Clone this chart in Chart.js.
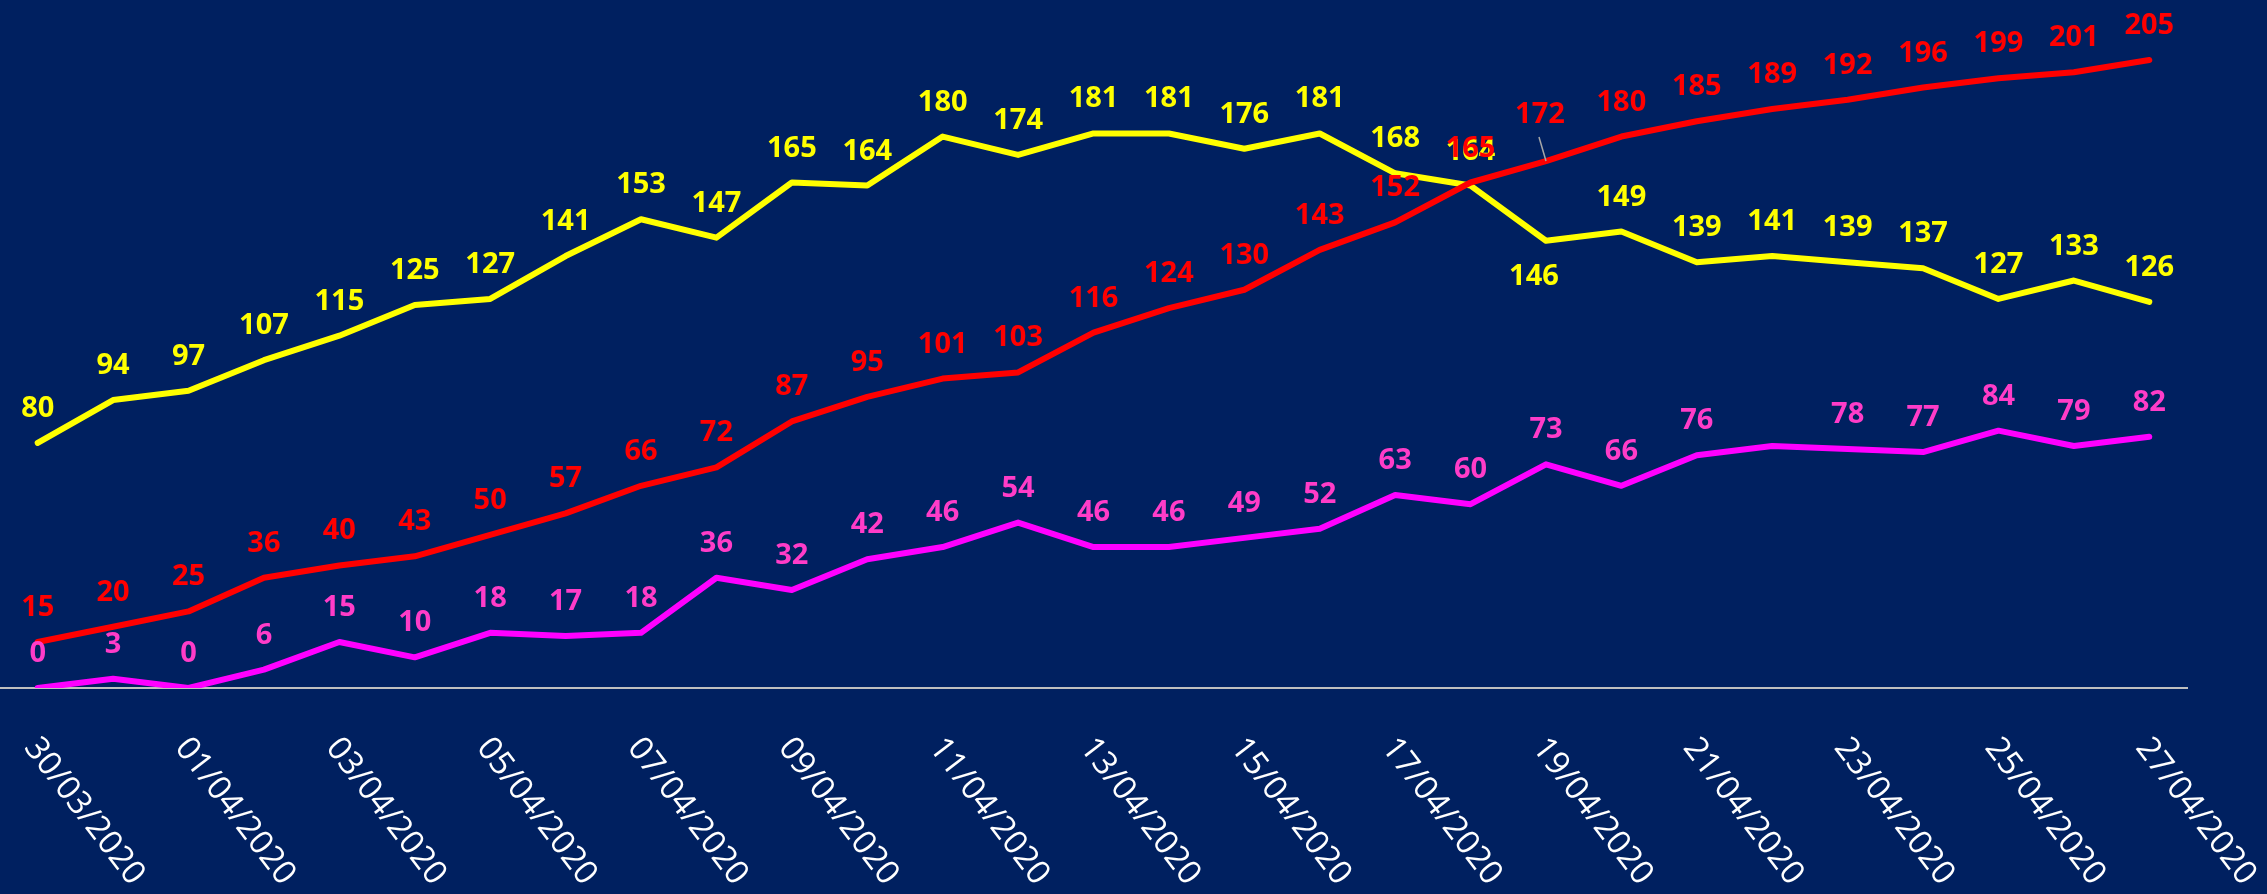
<!DOCTYPE html>
<html>
<head>
<meta charset="utf-8">
<script src="https://cdn.jsdelivr.net/npm/chart.js@4.4.1/dist/chart.umd.min.js"></script>
<style>
  html, body { margin: 0; padding: 0; background: #002060; }
  #wrap { width: 2267px; height: 894px; }
</style>
</head>
<body>
<div id="wrap"><canvas id="c" width="2267" height="894"></canvas></div>
<script>
// ---- data ----
const categories = [
  '30/03/2020','31/03/2020','01/04/2020','02/04/2020','03/04/2020','04/04/2020','05/04/2020',
  '06/04/2020','07/04/2020','08/04/2020','09/04/2020','10/04/2020','11/04/2020','12/04/2020',
  '13/04/2020','14/04/2020','15/04/2020','16/04/2020','17/04/2020','18/04/2020','19/04/2020',
  '20/04/2020','21/04/2020','22/04/2020','23/04/2020','24/04/2020','25/04/2020','26/04/2020','27/04/2020'
];
const yellowValues  = [80,94,97,107,115,125,127,141,153,147,165,164,180,174,181,181,176,181,168,164,146,149,139,141,139,137,127,133,126];
const redValues     = [15,20,25,36,40,43,50,57,66,72,87,95,101,103,116,124,130,143,152,165,172,180,185,189,192,196,199,201,205];
const magentaValues = [0,3,0,6,15,10,18,17,18,36,32,42,46,54,46,46,49,52,63,60,73,66,76,79,78,77,84,79,82];
const tickStep = 2; // every other date shown on the axis

// ---- styling ----
const BG = '#002060';
const LABEL_FONT = 'bold 29px "Open Sans", "Noto Sans", sans-serif';
const TICK_FONT = '33px "Open Sans", "Noto Sans", sans-serif';
// per-label placement tweaks: {dx, base (baseline offset from point), leader}
const labelTweaks = {
  yellow: { 20: { dx: -12, base: 44 } },
  red: { 20: { dx: -6, base: -38.5, leader: true } },
  magenta: { 23: { hidden: true } }
};

const bgPlugin = {
  id: 'bg',
  beforeDraw(chart) {
    const ctx = chart.ctx;
    ctx.save();
    ctx.fillStyle = BG;
    ctx.fillRect(0, 0, chart.width, chart.height);
    ctx.restore();
  }
};

const labelsPlugin = {
  id: 'valueLabels',
  afterDatasetsDraw(chart) {
    const ctx = chart.ctx;
    ctx.save();
    ctx.font = LABEL_FONT;
    ctx.textAlign = 'center';
    ctx.textBaseline = 'alphabetic';
    chart.data.datasets.forEach((ds, di) => {
      const meta = chart.getDatasetMeta(di);
      const tw = labelTweaks[ds.key] || {};
      meta.data.forEach((pt, i) => {
        const t = tw[i] || {};
        if (t.hidden) return;
        const x = pt.x + (t.dx || 0);
        const y = pt.y + (t.base !== undefined ? t.base : -26);
        if (t.leader) {
          ctx.strokeStyle = '#A6A6A6';
          ctx.lineWidth = 1.5;
          ctx.beginPath();
          ctx.moveTo(pt.x - 7, pt.y - 24);
          ctx.lineTo(pt.x, pt.y);
          ctx.stroke();
        }
        ctx.fillStyle = ds.labelColor;
        ctx.fillText(String(ds.data[i]), x, y);
      });
    });
    ctx.restore();
  },
  afterDraw(chart) {
    const ctx = chart.ctx;
    const xs = chart.scales.x;
    ctx.save();
    ctx.font = TICK_FONT;
    ctx.fillStyle = '#FFFFFF';
    ctx.textAlign = 'left';
    ctx.textBaseline = 'middle';
    const ang = 52.5 * Math.PI / 180;
    categories.forEach((lab, i) => {
      if (i % tickStep !== 0) return;
      const px = xs.getPixelForValue(i);
      ctx.save();
      ctx.translate(px - 7, xs.top + 54);
      ctx.rotate(ang);
      ctx.fillText(lab, 0, 0);
      ctx.restore();
    });
    ctx.restore();
  }
};

const common = {
  pointRadius: 0,
  pointHoverRadius: 0,
  borderWidth: 6,
  tension: 0,
  borderCapStyle: 'round',
  borderJoinStyle: 'round',
  fill: false
};

new Chart(document.getElementById('c'), {
  type: 'line',
  data: {
    labels: categories,
    datasets: [
      Object.assign({ key: 'yellow', data: yellowValues, borderColor: '#FFFF00', labelColor: '#FFFF00', order: 2 }, common),
      Object.assign({ key: 'magenta', data: magentaValues, borderColor: '#FF00FF', labelColor: '#FF3CC8', order: 1 }, common),
      Object.assign({ key: 'red', data: redValues, borderColor: '#FF0000', labelColor: '#FF0000', order: 0 }, common)
    ]
  },
  options: {
    responsive: false,
    devicePixelRatio: 1,
    animation: false,
    layout: { padding: { top: 14, right: 80, left: 0, bottom: 0 } },
    plugins: { legend: { display: false }, tooltip: { enabled: false } },
    scales: {
      x: {
        offset: true,
        grid: { display: false },
        border: { display: true, color: '#BFBFBF', width: 2 },
        ticks: { display: false },
        afterFit(scale) { scale.height = 206; }
      },
      y: {
        display: false,
        min: 0,
        max: 220
      }
    }
  },
  plugins: [bgPlugin, labelsPlugin]
});
</script>
</body>
</html>
